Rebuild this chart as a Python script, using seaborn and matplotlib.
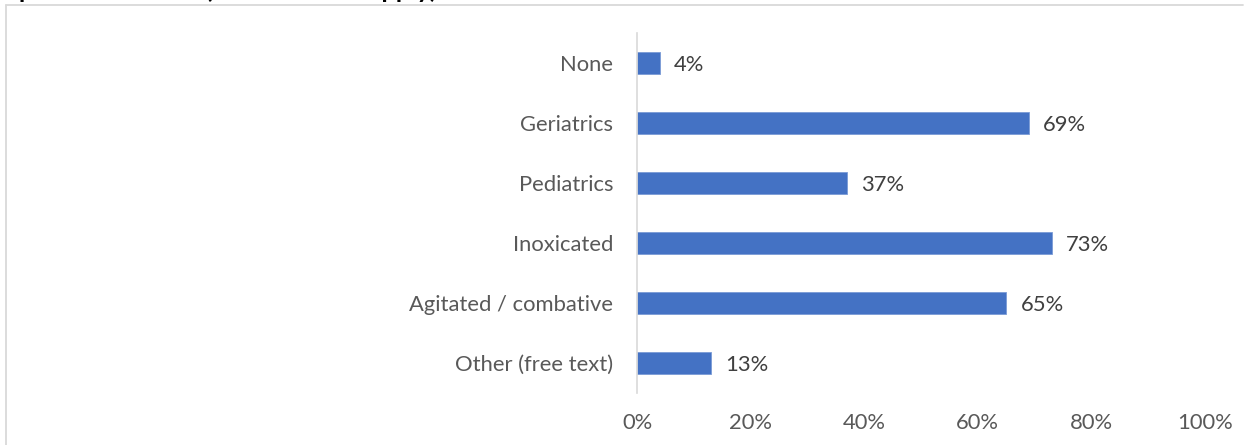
import matplotlib
matplotlib.use("Agg")
import matplotlib.pyplot as plt
from matplotlib.lines import Line2D
from matplotlib.ticker import FuncFormatter
import seaborn as sns
import pandas as pd

categories = ["None", "Geriatrics", "Pediatrics", "Inoxicated",
              "Agitated / combative", "Other (free text)"]
values = [4, 69, 37, 73, 65, 13]
x_ticks = [0, 20, 40, 60, 80, 100]
title_text = "patients treated (select all that apply)"

df = pd.DataFrame({"category": categories, "value": values})

sns.set_theme(style="white")
plt.rcParams["font.family"] = ["Lato", "DejaVu Sans"]

W, H, DPI = 1244, 445, 100
fig = plt.figure(figsize=(W / DPI, H / DPI), dpi=DPI)

# axes placement (pixels): x0=637, x100=1205, top=33, bottom=393
ax = fig.add_axes([637 / W, (H - 393) / H, 568 / W, 360 / H])

sns.barplot(data=df, y="category", x="value", order=categories,
            color="#4472C4", saturation=1, width=0.36, ax=ax,
            edgecolor="#7A9BD6", linewidth=0.6)

ax.set_xlim(0, 100)
ax.set_ylim(len(categories) - 0.5, -0.5)
ax.set_xticks(x_ticks)
ax.xaxis.set_major_formatter(FuncFormatter(lambda v, p: f"{v:.0f}%"))
ax.set_xlabel("")
ax.set_ylabel("")

for s in ["top", "right", "bottom"]:
    ax.spines[s].set_visible(False)
ax.spines["left"].set_color("#D9D9D9")
ax.spines["left"].set_linewidth(1.2)

fs = 15.8
ax.tick_params(axis="x", length=0, pad=14.5, labelsize=fs, labelcolor="#595959")
ax.tick_params(axis="y", length=0, pad=17.2, labelsize=fs, labelcolor="#595959")

for i, v in enumerate(values):
    ax.text(v + 2.5, i + 0.03, f"{v}%", va="center", ha="left",
            fontsize=fs, color="#404040")

# chart-area frame (partially visible)
frame_col = "#D9D9D9"
fig.add_artist(Line2D([6 / W, 1243 / W], [1 - 5 / H, 1 - 5 / H],
                      transform=fig.transFigure, color=frame_col, lw=1.3))
fig.add_artist(Line2D([6 / W, 6 / W], [1 - 5 / H, 0],
                      transform=fig.transFigure, color=frame_col, lw=1.3))

# clipped title (only the descenders are visible in the reference)
fig.text(19 / W, 1 + 2.5 / H, title_text, ha="left", va="baseline",
         fontsize=18.3, fontweight="bold", color="black")

fig.savefig("out.png", dpi=DPI)
